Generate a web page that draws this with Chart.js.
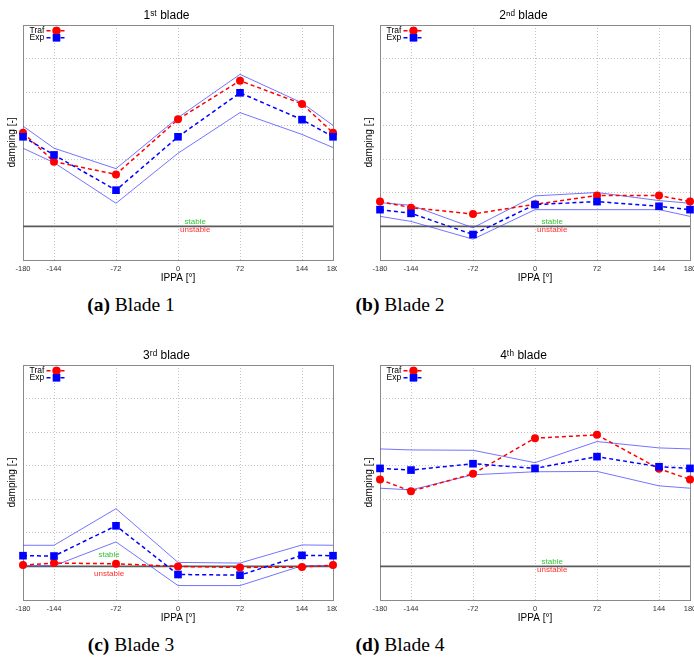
<!DOCTYPE html>
<html><head><meta charset="utf-8">
<script src="https://cdn.jsdelivr.net/npm/chart.js@4.4.1/dist/chart.umd.min.js"></script>
<style>
html,body{margin:0;padding:0;background:#fff}
body{width:694px;height:657px;position:relative;overflow:hidden}
.wrap{position:absolute;overflow:hidden;height:290px}
.cap{position:absolute;font-family:"Liberation Serif","DejaVu Serif",serif;font-size:19.5px;color:#000;white-space:nowrap;transform:translate(-50%,-50%)}
</style></head><body>
<div class="wrap" style="left:0;top:0;width:337px"><canvas id="c1"></canvas></div>
<div class="wrap" style="left:347px;top:0;width:347px"><canvas id="c2"></canvas></div>
<div class="wrap" style="left:0;top:340px;width:337px"><canvas id="c3"></canvas></div>
<div class="wrap" style="left:347px;top:340px;width:347px"><canvas id="c4"></canvas></div>
<div class="cap" style="left:131px;top:305px"><b>(a)</b> Blade 1</div>
<div class="cap" style="left:400px;top:305px"><b>(b)</b> Blade 2</div>
<div class="cap" style="left:131px;top:645px"><b>(c)</b> Blade 3</div>
<div class="cap" style="left:400px;top:645px"><b>(d)</b> Blade 4</div>
<script>
// ---- data ----
const ippa = [-180, -144, -72, 0, 72, 144, 180];
const xTickValues = [-180, -144, -72, 0, 72, 144, 180];
const titles = ['1ˢᵗ blade', '2ⁿᵈ blade', '3ʳᵈ blade', '4ᵗʰ blade'];

const blade1Traf  = [2.79, 1.93, 1.55, 3.19, 4.34, 3.65, 2.79];
const blade1Exp   = [2.67, 2.13, 1.08, 2.67, 3.98, 3.18, 2.67];
const blade1Upper = [2.99, 2.33, 1.72, 3.24, 4.53, 3.68, 3.01];
const blade1Lower = [2.33, 1.90, 0.69, 2.18, 3.39, 2.74, 2.35];

const blade2Traf  = [0.74, 0.56, 0.37, 0.66, 0.92, 0.92, 0.74];
const blade2Exp   = [0.50, 0.39, -0.24, 0.65, 0.74, 0.60, 0.50];
const blade2Upper = [0.71, 0.63, -0.04, 0.91, 1.01, 0.77, 0.69];
const blade2Lower = [0.30, 0.15, -0.38, 0.50, 0.50, 0.50, 0.30];

const blade3Traf  = [0.04, 0.10, 0.08, 0.00, -0.03, -0.02, 0.04];
const blade3Exp   = [0.32, 0.31, 1.21, -0.24, -0.26, 0.33, 0.32];
const blade3Upper = [0.63, 0.63, 1.72, 0.12, 0.10, 0.64, 0.63];
const blade3Lower = [0.02, 0.02, 0.73, -0.57, -0.57, 0.02, 0.02];

const blade4Traf  = [2.59, 2.24, 2.76, 3.82, 3.92, 2.91, 2.59];
const blade4Exp   = [2.92, 2.87, 3.06, 2.92, 3.27, 2.97, 2.92];
const blade4Upper = [3.50, 3.47, 3.46, 3.09, 3.72, 3.53, 3.50];
const blade4Lower = [2.33, 2.28, 2.73, 2.82, 2.83, 2.40, 2.33];

// stable / unstable label anchors [x, yStable, yUnstable]
const stableLabels = [[20, 0.14, -0.11], [20, 0.14, -0.11], [-80, 0.34, -0.23], [20, 0.14, -0.11]];

const FONT = '"Liberation Sans", Arial, sans-serif';
const RED = '#ff0000', BLUE = '#0000ff', ENV = 'rgba(70,70,255,0.75)';

const pts = arr => ippa.map((x, i) => ({x, y: arr[i]}));

const framePlugin = {
  id: 'frame',
  beforeDatasetsDraw(chart) {
    const {ctx, chartArea: a, scales: {x, y}} = chart;
    const lab = chart.options.plugins.frame.labels;
    ctx.save();
    ctx.strokeStyle = '#8a8a8a'; ctx.lineWidth = 1;
    ctx.strokeRect(Math.round(a.left) + 0.5, Math.round(a.top) + 0.5, Math.round(a.right - a.left), Math.round(a.bottom - a.top));
    const y0 = y.getPixelForValue(0);
    ctx.strokeStyle = '#5a5a5a'; ctx.lineWidth = 1.7;
    ctx.beginPath(); ctx.moveTo(a.left, y0); ctx.lineTo(a.right, y0); ctx.stroke();
    ctx.font = '8px ' + FONT; ctx.textAlign = 'center'; ctx.textBaseline = 'middle';
    ctx.fillStyle = '#33c633';
    ctx.fillText('stable', x.getPixelForValue(lab[0]), y.getPixelForValue(lab[1]));
    ctx.fillStyle = '#ff3030';
    ctx.fillText('unstable', x.getPixelForValue(lab[0]), y.getPixelForValue(lab[2]));
    ctx.restore();
  },
  afterDatasetsDraw(chart) {
    const {ctx, chartArea: a} = chart;
    const items = [
      {t: 'Traf', c: RED, style: 'circle', r: 4, dy: 5.7},
      {t: 'Exp', c: BLUE, style: 'rect', r: 5.2, dy: 12.7}
    ];
    ctx.save();
    items.forEach(it => {
      const yy = a.top + it.dy;
      ctx.font = '8.5px ' + FONT; ctx.fillStyle = '#000';
      ctx.textAlign = 'left'; ctx.textBaseline = 'middle';
      ctx.fillText(it.t, a.left + 6.5, yy);
      ctx.strokeStyle = it.c; ctx.lineWidth = 1.5; ctx.setLineDash([4, 3]);
      ctx.beginPath(); ctx.moveTo(a.left + 23.5, yy); ctx.lineTo(a.left + 42.5, yy); ctx.stroke();
      ctx.setLineDash([]);
      ctx.fillStyle = it.c;
      Chart.helpers.drawPoint(ctx, {pointStyle: it.style, rotation: 0, radius: it.r, borderWidth: 0}, a.left + 33.5, yy);
      ctx.fill();
    });
    ctx.restore();
  }
};

function makeChart(id, title, traf, exp, upper, lower, lab, padLeft, cw) {
  const cv = document.getElementById(id);
  cv.width = cw; cv.height = 290;
  cv.style.width = cw + 'px'; cv.style.height = '290px';
  const line = (label, data, color, w, dash, style, r, order) => ({
    label, data: pts(data), borderColor: color, backgroundColor: color,
    borderWidth: w, borderDash: dash, pointStyle: style, pointRadius: r,
    pointBorderWidth: 0, pointHoverRadius: r, tension: 0, clip: false, order
  });
  return new Chart(cv, {
    type: 'line',
    data: {datasets: [
      line('Exp', exp, BLUE, 1.5, [4, 3], 'rect', 5.4, 0),
      line('Traf', traf, RED, 1.5, [4, 3], 'circle', 4, 1),
      line('Exp upper', upper, ENV, 1, [], 'circle', 0, 2),
      line('Exp lower', lower, ENV, 1, [], 'circle', 0, 2)
    ]},
    options: {
      responsive: false, animation: false, devicePixelRatio: 1,
      layout: {padding: {left: padLeft, right: cw - padLeft - 23 - 310, top: 0, bottom: 0}},
      plugins: {
        legend: {display: false}, tooltip: {enabled: false},
        title: {display: true, text: title, color: '#000', font: {family: FONT, size: 12, weight: 'normal'}, padding: {top: 8.8, bottom: 1.8}},
        frame: {labels: lab}
      },
      scales: {
        x: {
          type: 'linear', min: -180, max: 180,
          afterBuildTicks: s => { s.ticks = xTickValues.map(v => ({value: v})); },
          afterFit: s => { s.height = 30; },
          ticks: {color: '#333', font: {family: FONT, size: 7.5}, padding: 4, maxRotation: 0, autoSkip: false, callback: v => String(v)},
          grid: {color: '#c4c4c4', drawTicks: false, lineWidth: 1},
          border: {display: false, dash: [1, 2]},
          title: {display: true, text: 'IPPA [°]', color: '#000', font: {family: FONT, size: 10}, padding: {top: 0, bottom: 6}}
        },
        y: {
          min: -1, max: 6,
          ticks: {display: false, stepSize: 1},
          afterFit: s => { s.width = 23; },
          grid: {color: '#c4c4c4', drawTicks: false, lineWidth: 1},
          border: {display: false, dash: [1, 2]},
          title: {display: true, text: 'damping [-]', color: '#000', font: {family: FONT, size: 10}, padding: {top: 6.7, bottom: 0}}
        }
      }
    },
    plugins: [framePlugin]
  });
}

makeChart('c1', titles[0], blade1Traf, blade1Exp, blade1Upper, blade1Lower, stableLabels[0], 0, 347);
makeChart('c2', titles[1], blade2Traf, blade2Exp, blade2Upper, blade2Lower, stableLabels[1], 10, 357);
makeChart('c3', titles[2], blade3Traf, blade3Exp, blade3Upper, blade3Lower, stableLabels[2], 0, 347);
makeChart('c4', titles[3], blade4Traf, blade4Exp, blade4Upper, blade4Lower, stableLabels[3], 10, 357);
</script>
</body></html>
